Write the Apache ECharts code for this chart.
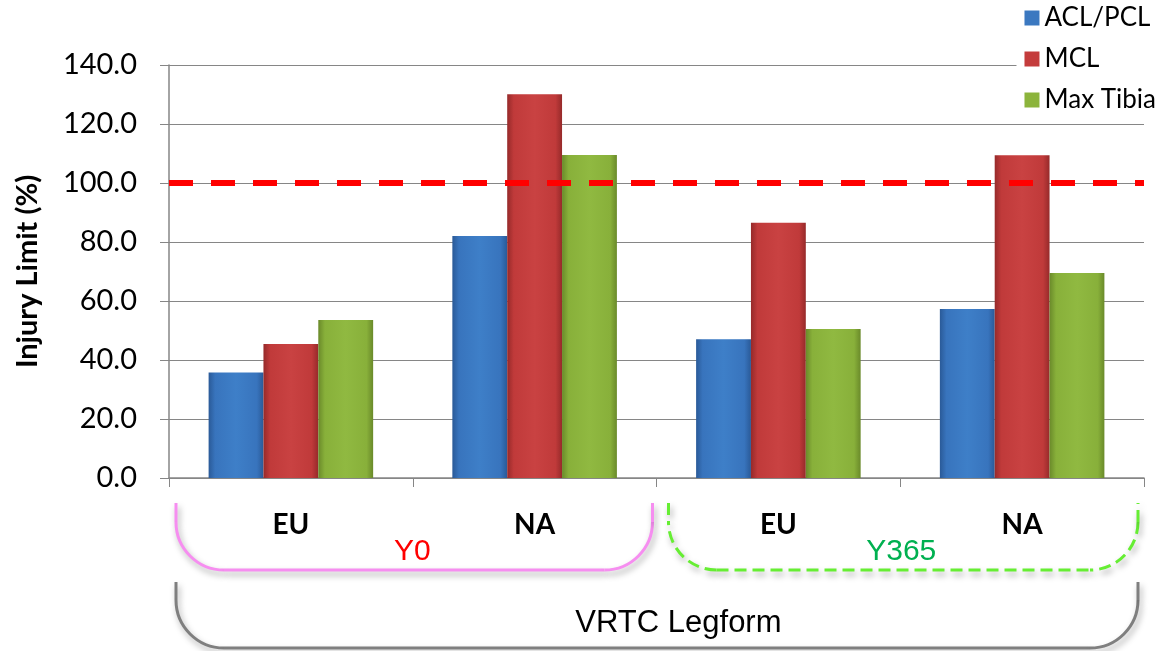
<!DOCTYPE html>
<html>
<head>
<meta charset="utf-8">
<script src="https://cdn.jsdelivr.net/npm/echarts@6/dist/echarts.min.js"></script>
<style>html,body{margin:0;padding:0;background:#fff}#c{width:1162px;height:651px}</style>
</head>
<body>
<div id="c"></div>
<script>
const categories = ['EU', 'NA', 'EU', 'NA'];
const aclPcl = [35.8, 82.0, 47.0, 57.3];
const mcl = [45.4, 130.1, 86.5, 109.4];
const maxTibia = [53.6, 109.5, 50.5, 69.5];
const seriesNames = ['ACL/PCL', 'MCL', 'Max Tibia'];
const limitValue = 100;
const groupLabels = ['Y0', 'Y365'];
const outerLabel = 'VRTC Legform';
const yTicks = { min: 0, max: 140, interval: 20 };

function grad(dark, mid, light) {
  return new echarts.graphic.LinearGradient(0, 0, 1, 0, [
    { offset: 0, color: dark },
    { offset: 0.12, color: mid },
    { offset: 0.5, color: light },
    { offset: 0.88, color: mid },
    { offset: 1, color: dark }
  ]);
}
const colors = [
  grad('#2a5a98', '#3874bd', '#3e7fc8'),
  grad('#962a2a', '#c03a3a', '#c94242'),
  grad('#6a8a2a', '#88b03a', '#90b941')
];
const iconColors = ['#3b78c0', '#c43c3c', '#8cb43c'];

const chart = echarts.init(document.getElementById('c'), null, { renderer: 'canvas' });
const seriesData = [aclPcl, mcl, maxTibia];
const series = seriesData.map((d, i) => ({
  name: seriesNames[i],
  type: 'bar',
  data: d,
  barGap: '0%',
  barCategoryGap: '32.5%',
  itemStyle: {
    color: colors[i],
    shadowBlur: 4,
    shadowColor: 'rgba(0,0,0,0.35)',
    shadowOffsetX: 1,
    shadowOffsetY: 1
  },
  z: 2
}));
series[0].markLine = {
  silent: true,
  symbol: 'none',
  label: { show: false },
  lineStyle: { color: '#ff0000', width: 6, type: [24, 18] },
  data: [{ yAxis: limitValue }],
  z: 5
};

chart.setOption({
  animation: false,
  color: iconColors,
  grid: { left: 169, right: 18, top: 65, bottom: 173 },
  legend: {
    orient: 'vertical',
    right: 4,
    top: 3,
    itemWidth: 15,
    itemHeight: 15,
    itemGap: 15,
    backgroundColor: '#fff',
    padding: [2, 2, 2, 8],
    icon: 'rect',
    textStyle: { fontFamily: 'Lato', fontSize: 26, color: '#000' },
    data: seriesNames.map((n, i) => ({ name: n, itemStyle: { color: iconColors[i] } }))
  },
  xAxis: {
    type: 'category',
    data: categories,
    axisLine: { lineStyle: { color: '#868686', width: 1.5 } },
    axisTick: { show: true, length: 9, lineStyle: { color: '#868686' } },
    axisLabel: { margin: 33, fontFamily: 'Lato', fontWeight: 'bold', fontSize: 28, color: '#000' }
  },
  yAxis: {
    type: 'value',
    min: yTicks.min,
    max: yTicks.max,
    interval: yTicks.interval,
    name: 'Injury Limit (%)',
    nameLocation: 'middle',
    nameGap: 127,
    nameTextStyle: { fontFamily: 'Lato', fontWeight: 'bold', fontSize: 29, color: '#000' },
    axisLine: { show: true, lineStyle: { color: '#868686', width: 1.5 } },
    axisTick: { show: true, length: 9, lineStyle: { color: '#868686' } },
    splitLine: { lineStyle: { color: '#868686', width: 1.2 } },
    axisLabel: { margin: 32, fontFamily: 'Lato', fontSize: 29, color: '#000', formatter: v => v.toFixed(1) }
  },
  series: series
});

function drawBrackets() {
  const c0 = chart.convertToPixel({ xAxisIndex: 0 }, 0);
  const c1 = chart.convertToPixel({ xAxisIndex: 0 }, 1);
  const band = c1 - c0;
  const y0 = chart.convertToPixel({ yAxisIndex: 0 }, 0);
  const left0 = c0 - band / 2;
  const r = 48;
  const shadow = { shadowBlur: 6, shadowColor: 'rgba(0,0,0,0.35)', shadowOffsetX: 2, shadowOffsetY: 4 };
  function bracket(x1, x2, yTop, yBot, rad, stroke, dash) {
    const st = Object.assign({ fill: null, stroke: stroke, lineWidth: 3 }, shadow);
    if (dash) st.lineDash = dash;
    return [
      { type: 'polyline', shape: { points: [[x1, yTop], [x1, yBot - rad]] }, style: Object.assign({}, st), z: 10 },
      { type: 'arc', shape: { cx: x1 + rad, cy: yBot - rad, r: rad, startAngle: Math.PI / 2, endAngle: Math.PI, clockwise: true }, style: Object.assign({}, st), z: 10 },
      { type: 'polyline', shape: { points: [[x1 + rad, yBot], [x2 - rad, yBot]] }, style: Object.assign({}, st), z: 10 },
      { type: 'arc', shape: { cx: x2 - rad, cy: yBot - rad, r: rad, startAngle: 0, endAngle: Math.PI / 2, clockwise: true }, style: Object.assign({}, st), z: 10 },
      { type: 'polyline', shape: { points: [[x2, yBot - rad], [x2, yTop]] }, style: Object.assign({}, st), z: 10 }
    ];
  }
  const pinkL = left0 + 7, pinkR = left0 + 2 * band - 4;
  const grnL = left0 + 2 * band + 12, grnR = left0 + 4 * band - 6;
  const top1 = y0 + 25, bot1 = y0 + 92;
  const top2 = y0 + 104, bot2 = y0 + 170;
  const els = []
    .concat(bracket(pinkL, pinkR, top1, bot1, r, '#f68ef0'))
    .concat(bracket(grnL, grnR, top1, bot1, r, '#66ee33', [12, 6]))
    .concat(bracket(pinkL, grnR, top2, bot2, r, '#7f7f7f'));
  els.push(
    { type: 'text', x: (pinkL + pinkR) / 2 - 2, y: y0 + 74, style: { text: groupLabels[0], fill: '#ff0000', font: '30px "Liberation Sans"', textAlign: 'center', textVerticalAlign: 'middle' }, z: 11 },
    { type: 'text', x: (grnL + grnR) / 2 - 2, y: y0 + 74, style: { text: groupLabels[1], fill: '#00b050', font: '30px "Liberation Sans"', textAlign: 'center', textVerticalAlign: 'middle' }, z: 11 },
    { type: 'text', x: left0 + 2.09 * band, y: y0 + 145, style: { text: outerLabel, fill: '#000', font: '31px "Liberation Sans"', textAlign: 'center', textVerticalAlign: 'middle' }, z: 11 }
  );
  chart.setOption({ graphic: els });
}
drawBrackets();
</script>
</body>
</html>
